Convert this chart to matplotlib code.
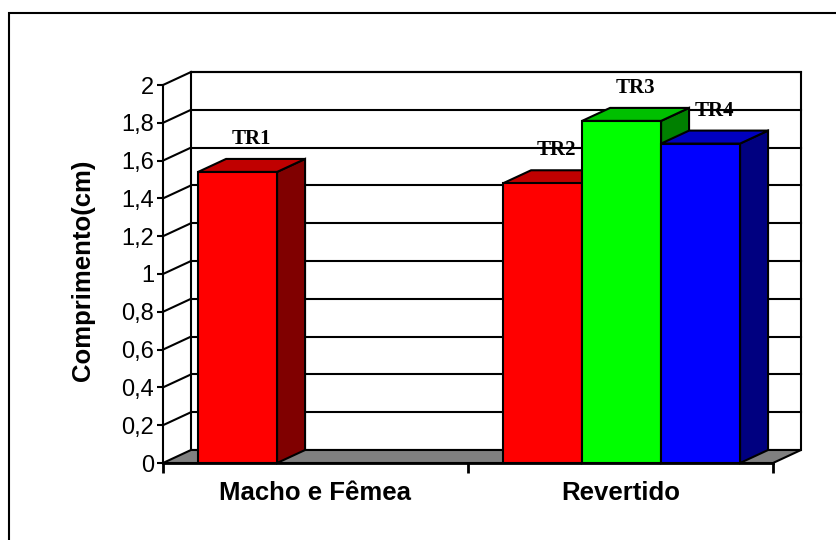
import matplotlib
matplotlib.use("Agg")
import matplotlib.pyplot as plt
from matplotlib.patches import Polygon, Rectangle

# Data
categories = ["Macho e Fêmea", "Revertido"]
bar_labels = ["TR1", "TR2", "TR3", "TR4"]
bar_category = [0, 1, 1, 1]
bar_slot = [0, 0, 1, 2]
bar_values = [1.54, 1.48, 1.81, 1.69]
y_ticks = [0, 0.2, 0.4, 0.6, 0.8, 1.0, 1.2, 1.4, 1.6, 1.8, 2.0]
y_tick_labels = ["0", "0,2", "0,4", "0,6", "0,8", "1", "1,2", "1,4", "1,6", "1,8", "2"]
y_title = "Comprimento(cm)"

# Styles
front_colors = ["#FF0000", "#FF0000", "#00FF00", "#0000FF"]
top_colors = ["#C00000", "#C00000", "#00C000", "#0000C0"]
side_colors = ["#800000", "#800000", "#008000", "#000080"]
floor_color = "#808080"
LW = 1.5
GAP = 0.115
BAR_W = 0.259
DEPTH_PX = (28, 13)

W, H = 837, 540
fig = plt.figure(figsize=(W / 100, H / 100), dpi=100)
ax = fig.add_axes([163 / W, (H - 463) / H, 610 / W, 378 / H])
ax.set_xlim(0, 2)
ax.set_ylim(0, 2)
ax.patch.set_facecolor("none")

# depth offset expressed in data units
dx = DEPTH_PX[0] / ax.bbox.width * 2
dy = DEPTH_PX[1] / ax.bbox.height * 2

# outer chart-area frame
fig.patches.append(Rectangle((9 / W, -0.2), 1.2, 1.2 - 13 / H, transform=fig.transFigure,
                             fill=False, edgecolor="black", linewidth=1.5))

kw = dict(clip_on=False)

# back wall with gridlines, side wall diagonals
ax.add_patch(Polygon([(dx, dy), (2 + dx, dy), (2 + dx, 2 + dy), (dx, 2 + dy)], closed=True,
                     facecolor="white", edgecolor="black", linewidth=LW, zorder=1, **kw))
for v in y_ticks[1:]:
    ax.plot([dx, 2 + dx], [v + dy, v + dy], color="black", linewidth=LW, zorder=1.1, **kw)
    ax.plot([0, dx], [v, v + dy], color="black", linewidth=LW, zorder=1.1, **kw)

# floor
ax.add_patch(Polygon([(0, 0), (2, 0), (2 + dx, dy), (dx, dy)], closed=True,
                     facecolor=floor_color, edgecolor="black", linewidth=LW, zorder=2, **kw))

# bars
for i, (lab, c, s, v) in enumerate(zip(bar_labels, bar_category, bar_slot, bar_values)):
    x0 = c + GAP + s * BAR_W
    x1 = x0 + BAR_W
    z = 3 + i
    ax.add_patch(Polygon([(x1, 0), (x1 + dx, dy), (x1 + dx, v + dy), (x1, v)], closed=True,
                         facecolor=side_colors[i], edgecolor="black", linewidth=LW, zorder=z, **kw))
    ax.add_patch(Polygon([(x0, v), (x1, v), (x1 + dx, v + dy), (x0 + dx, v + dy)], closed=True,
                         facecolor=top_colors[i], edgecolor="black", linewidth=LW, zorder=z, **kw))
    ax.add_patch(Rectangle((x0, 0), BAR_W, v, facecolor=front_colors[i], edgecolor="black",
                           linewidth=LW, zorder=z, **kw))
    ax.annotate(lab, xy=((x0 + x1) / 2 + dx / 2, v), xytext=(0, 33 * 72 / 100),
                textcoords="offset points", ha="center", va="center",
                fontsize=15, fontweight="bold", family="Liberation Serif", zorder=20)

# front axes
for side in ("top", "right"):
    ax.spines[side].set_visible(False)
ax.spines["left"].set_linewidth(LW)
ax.spines["bottom"].set_linewidth(2.0)
ax.spines["left"].set_zorder(10)
ax.spines["bottom"].set_zorder(10)

ax.set_yticks(y_ticks, labels=y_tick_labels)
ax.tick_params(axis="y", direction="out", length=4, width=LW, pad=2.5,
               labelsize=17, labelfontfamily="Liberation Sans")
ax.set_xticks([0, 1, 2], labels=["", "", ""])
ax.tick_params(axis="x", direction="out", length=7, width=2.0)

for k, name in enumerate(categories):
    ax.annotate(name, xy=(k + 0.5, 0), xytext=(0, -30 * 72 / 100), textcoords="offset points",
                ha="center", va="center", fontsize=18.5, fontweight="bold",
                family="Liberation Sans")

fig.text(83 / W, 1 - 270 / H, y_title, rotation=90, ha="center", va="center",
         fontsize=18.5, fontweight="bold", family="Liberation Sans")

fig.savefig("out.png", dpi=100)
